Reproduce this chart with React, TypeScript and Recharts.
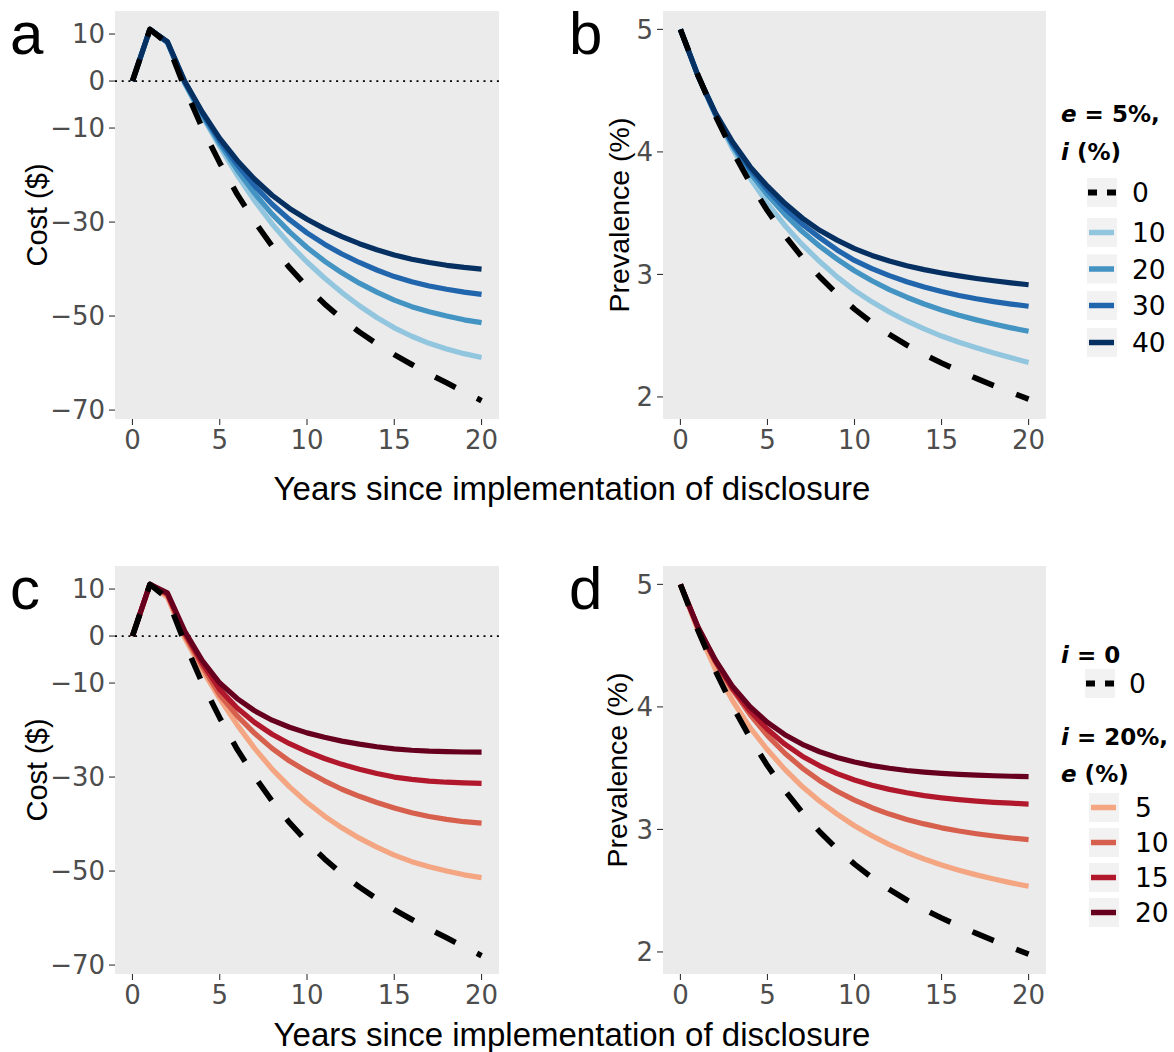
import React from 'react';
import { LineChart, Line, XAxis, YAxis, CartesianGrid, ReferenceLine } from 'recharts';

// years since implementation
const years = [0, 1, 2, 3, 4, 5, 6, 7, 8, 9, 10, 11, 12, 13, 14, 15, 16, 17, 18, 19, 20];

// cost ($), no intervention (i = 0)
const costI0 = [0, 11, 8.0, -1.5, -10.0, -17.4, -24.1, -29.9, -35.1, -39.7, -43.8, -47.4, -50.6, -53.4, -55.9, -58.2, -60.3, -62.3, -64.2, -66.1, -68.0];
// cost ($), e = 5%
const costI10E5 = [0, 11, 8.2, -0.6, -7.5, -13.9, -20.0, -25.5, -30.4, -34.7, -38.5, -41.9, -45.0, -47.8, -50.3, -52.5, -54.3, -55.8, -57.0, -58.0, -58.8];
const costI20E5 = [0, 11, 8.3, -0.4, -7.2, -13.3, -18.9, -23.9, -28.3, -32.1, -35.4, -38.3, -40.8, -43.0, -44.9, -46.6, -48.0, -49.1, -50.0, -50.8, -51.4];
const costI30E5 = [0, 11, 8.3, -0.2, -6.8, -12.7, -17.8, -22.3, -26.2, -29.5, -32.3, -34.7, -36.8, -38.6, -40.2, -41.6, -42.7, -43.6, -44.3, -44.9, -45.4];
const costI40E5 = [0, 11, 8.4, -0.1, -6.6, -12.2, -16.9, -20.9, -24.3, -27.1, -29.4, -31.4, -33.1, -34.6, -35.9, -37.0, -37.9, -38.6, -39.2, -39.65, -40.0];
// cost ($), i = 20%
const costI20E10 = [0, 11, 8.8, 0.2, -6.4, -12.5, -17.0, -20.7, -23.9, -26.6, -28.8, -30.8, -32.6, -34.1, -35.4, -36.6, -37.6, -38.4, -39.0, -39.5, -39.8];
const costI20E15 = [0, 11, 9.0, 0.6, -5.8, -11.4, -15.3, -18.4, -20.9, -22.9, -24.6, -26.05, -27.3, -28.35, -29.25, -30.0, -30.5, -30.85, -31.1, -31.25, -31.35];
const costI20E20 = [0, 11, 9.2, 1.0, -5.2, -10.0, -13.3, -15.9, -17.9, -19.4, -20.6, -21.55, -22.35, -23.0, -23.55, -24.0, -24.3, -24.5, -24.6, -24.67, -24.7];

// prevalence (%)
const prevI0 = [5.0, 4.628, 4.298, 4.006, 3.748, 3.52, 3.318, 3.139, 2.981, 2.841, 2.717, 2.607, 2.51, 2.424, 2.347, 2.277, 2.212, 2.151, 2.093, 2.037, 1.983];
const prevI10E5 = [5.0, 4.624, 4.302, 4.025, 3.787, 3.58, 3.4, 3.243, 3.105, 2.98, 2.87, 2.776, 2.693, 2.62, 2.555, 2.497, 2.447, 2.401, 2.359, 2.319, 2.282];
const prevI20E5 = [5.0, 4.625, 4.31, 4.05, 3.83, 3.65, 3.49, 3.35, 3.23, 3.125, 3.03, 2.948, 2.876, 2.814, 2.759, 2.71, 2.667, 2.629, 2.595, 2.564, 2.536];
const prevI30E5 = [5.0, 4.625, 4.315, 4.06, 3.86, 3.69, 3.54, 3.41, 3.3, 3.2, 3.114, 3.048, 2.99, 2.94, 2.897, 2.86, 2.828, 2.801, 2.778, 2.758, 2.74];
const prevI40E5 = [5.0, 4.625, 4.32, 4.08, 3.88, 3.72, 3.58, 3.46, 3.36, 3.28, 3.21, 3.155, 3.109, 3.071, 3.039, 3.012, 2.988, 2.967, 2.948, 2.931, 2.916];
const prevI20E10 = [5.0, 4.65, 4.37, 4.139, 3.937, 3.766, 3.622, 3.501, 3.398, 3.312, 3.239, 3.177, 3.125, 3.081, 3.045, 3.013, 2.987, 2.965, 2.946, 2.93, 2.917];
const prevI20E15 = [5.0, 4.652, 4.376, 4.149, 3.966, 3.817, 3.696, 3.598, 3.519, 3.455, 3.403, 3.361, 3.327, 3.299, 3.276, 3.258, 3.243, 3.231, 3.221, 3.214, 3.207];
const prevI20E20 = [5.0, 4.655, 4.385, 4.166, 4.001, 3.873, 3.773, 3.695, 3.634, 3.587, 3.55, 3.521, 3.499, 3.481, 3.468, 3.457, 3.449, 3.443, 3.438, 3.434, 3.431];

// ticks
const yearTicks = [0, 5, 10, 15, 20];
const costTicks = [10, 0, -10, -30, -50, -70];
const prevTicks = [2, 3, 4, 5];

const costDomain: [number, number] = [-71.9, 14.9];
const prevDomain: [number, number] = [1.82, 5.15];

interface Scenario {
  key: string;
  label: string;
  color: string;
  dashed?: boolean;
}
interface Series extends Scenario {
  values: number[];
}

const baseline: Scenario = { key: 'i0', label: '0', color: '#000000', dashed: true };
const iLevels: Scenario[] = [
  { key: 'i10', label: '10', color: '#92C5DE' },
  { key: 'i20', label: '20', color: '#4393C3' },
  { key: 'i30', label: '30', color: '#2166AC' },
  { key: 'i40', label: '40', color: '#053061' },
];
const eLevels: Scenario[] = [
  { key: 'e5', label: '5', color: '#F4A582' },
  { key: 'e10', label: '10', color: '#D6604D' },
  { key: 'e15', label: '15', color: '#B2182B' },
  { key: 'e20', label: '20', color: '#67001F' },
];

const withValues = (levels: Scenario[], values: number[][], base: number[]): Series[] => [
  ...levels.map((l, j) => ({ ...l, values: values[j] })),
  { ...baseline, values: base },
];

const costA = withValues(iLevels, [costI10E5, costI20E5, costI30E5, costI40E5], costI0);
const prevB = withValues(iLevels, [prevI10E5, prevI20E5, prevI30E5, prevI40E5], prevI0);
const costC = withValues(eLevels, [costI20E5, costI20E10, costI20E15, costI20E20], costI0);
const prevD = withValues(eLevels, [prevI20E5, prevI20E10, prevI20E15, prevI20E20], prevI0);

const TICK_FONT = 'DejaVu Sans';
const TITLE_FONT = '"Liberation Sans", Arial, sans-serif';

const fmt = (v: number) => (v < 0 ? `\u2212${Math.abs(v)}` : `${v}`);

interface PanelProps {
  left: number;
  top: number;
  width: number;
  yAxisWidth: number;
  rightMargin: number;
  series: Series[];
  domain: [number, number];
  ticks: number[];
  zeroLine?: boolean;
}

const Panel: React.FC<PanelProps> = ({ left, top, width, yAxisWidth, rightMargin, series, domain, ticks, zeroLine }) => {
  const rows = years.map((year, i) => {
    const row: Record<string, number> = { year };
    series.forEach((s) => {
      row[s.key] = s.values[i];
    });
    return row;
  });
  return (
    <div style={{ position: 'absolute', left, top }}>
      <LineChart width={width} height={470} data={rows} margin={{ top: 11, right: rightMargin, bottom: 0, left: 0 }}>
        <CartesianGrid fill="#EBEBEB" horizontal={false} vertical={false} />
        <XAxis
          dataKey="year"
          type="number"
          domain={[-1, 21]}
          ticks={yearTicks}
          interval={0}
          allowDataOverflow
          axisLine={false}
          tickLine={{ stroke: '#333333', strokeWidth: 1.1 }}
          tickSize={6}
          tickMargin={6}
          height={51}
          tick={{ fill: '#4D4D4D', fontSize: 26, fontFamily: TICK_FONT }}
        />
        <YAxis
          type="number"
          domain={domain}
          ticks={ticks}
          interval={0}
          allowDataOverflow
          width={yAxisWidth}
          axisLine={false}
          tickLine={{ stroke: '#333333', strokeWidth: 1.1 }}
          tickSize={6}
          tickMargin={4}
          tickFormatter={fmt}
          tick={{ fill: '#4D4D4D', fontSize: 26, fontFamily: TICK_FONT }}
        />
        {zeroLine && <ReferenceLine y={0} stroke="#000000" strokeWidth={1.7} strokeDasharray="2 4.7" />}
        {series.map((s) => (
          <Line
            key={s.key}
            type="linear"
            dataKey={s.key}
            stroke={s.color}
            strokeWidth={s.dashed ? 5.6 : 5.2}
            strokeDasharray={s.dashed ? '23 24' : undefined}
            strokeLinecap="butt"
            strokeLinejoin="round"
            dot={false}
            activeDot={false}
            isAnimationActive={false}
          />
        ))}
      </LineChart>
    </div>
  );
};

const LegendKey: React.FC<{ x: number; y: number; s: Scenario }> = ({ x, y, s }) => (
  <g>
    <rect x={x} y={y} width={30} height={29} fill="#F2F2F2" />
    <line
      x1={s.dashed ? x + 1 : x + 2}
      x2={s.dashed ? x + 29 : x + 27}
      y1={y + 14.5}
      y2={y + 14.5}
      stroke={s.color}
      strokeWidth={s.dashed ? 6 : 5.5}
      strokeDasharray={s.dashed ? '9 10' : undefined}
    />
  </g>
);

const LegendLabel: React.FC<{ x: number; cy: number; text: string }> = ({ x, cy, text }) => (
  <text x={x} y={cy + 9.6} fontFamily={TICK_FONT} fontSize={26.5} fill="#000000">
    {text}
  </text>
);

const legendTitle = { fontFamily: TICK_FONT, fontWeight: 'bold' as const, fontSize: 23, fill: '#000000' };

// key rows of the two legends
const legendBRows = [178, 218, 254.5, 291, 328];
const legendDRows = [793, 828, 863, 898];

const Overlay: React.FC = () => {
  const bItems = [prevB[4], ...prevB.slice(0, 4)];
  return (
    <svg width={1174} height={1052} style={{ position: 'absolute', left: 0, top: 0, pointerEvents: 'none' }}>
      {/* panel letters */}
      <g fontFamily={TITLE_FONT} fontSize={60} fill="#000000">
        <text x={10} y={54}>a</text>
        <text x={569} y={54}>b</text>
        <text x={10} y={609}>c</text>
        <text x={569} y={609}>d</text>
      </g>
      {/* y titles */}
      <g fontFamily={TITLE_FONT} fontSize={29} fill="#000000" textAnchor="middle" dominantBaseline="central">
        <text transform="translate(37,215) rotate(-90)">Cost ($)</text>
        <text transform="translate(37,770) rotate(-90)">Cost ($)</text>
        <text transform="translate(619,215) rotate(-90)" fontSize={28.5}>Prevalence (%)</text>
        <text transform="translate(617,770) rotate(-90)" fontSize={28.5}>Prevalence (%)</text>
      </g>
      {/* x titles */}
      <g fontFamily={TITLE_FONT} fontSize={33} fill="#000000" textAnchor="middle">
        <text x={572} y={500}>Years since implementation of disclosure</text>
        <text x={572} y={1046}>Years since implementation of disclosure</text>
      </g>
      {/* legend b */}
      <text x={1061} y={122} {...legendTitle}>
        <tspan fontStyle="italic">e</tspan>
        {' = 5%,'}
      </text>
      <text x={1061} y={160} {...legendTitle}>
        <tspan fontStyle="italic">i</tspan>
        {' (%)'}
      </text>
      {bItems.map((s, k) => (
        <g key={s.key}>
          <LegendKey x={1087} y={legendBRows[k]} s={s} />
          <LegendLabel x={1132} cy={legendBRows[k] + 14.5} text={s.label} />
        </g>
      ))}
      {/* legend d */}
      <text x={1061} y={663} {...legendTitle}>
        <tspan fontStyle="italic">i</tspan>
        {' = 0'}
      </text>
      <LegendKey x={1085} y={669} s={prevD[4]} />
      <LegendLabel x={1129} cy={683.5} text={prevD[4].label} />
      <text x={1061} y={745} {...legendTitle}>
        <tspan fontStyle="italic">i</tspan>
        {' = 20%,'}
      </text>
      <text x={1061} y={782} {...legendTitle}>
        <tspan fontStyle="italic">e</tspan>
        {' (%)'}
      </text>
      {prevD.slice(0, 4).map((s, k) => (
        <g key={s.key}>
          <LegendKey x={1089} y={legendDRows[k]} s={s} />
          <LegendLabel x={1135} cy={legendDRows[k] + 14.5} text={s.label} />
        </g>
      ))}
    </svg>
  );
};

export default function App() {
  return (
    <div style={{ position: 'absolute', left: 0, top: 0, width: 1174, height: 1052, background: '#FFFFFF', overflow: 'hidden' }}>
      <Panel left={0} top={0} width={510} yAxisWidth={115} rightMargin={11} series={costA} domain={costDomain} ticks={costTicks} zeroLine />
      <Panel left={560} top={0} width={500} yAxisWidth={103} rightMargin={14} series={prevB} domain={prevDomain} ticks={prevTicks} />
      <Panel left={0} top={555} width={510} yAxisWidth={115} rightMargin={11} series={costC} domain={costDomain} ticks={costTicks} zeroLine />
      <Panel left={560} top={555} width={500} yAxisWidth={103} rightMargin={14} series={prevD} domain={prevDomain} ticks={prevTicks} />
      <Overlay />
    </div>
  );
}
